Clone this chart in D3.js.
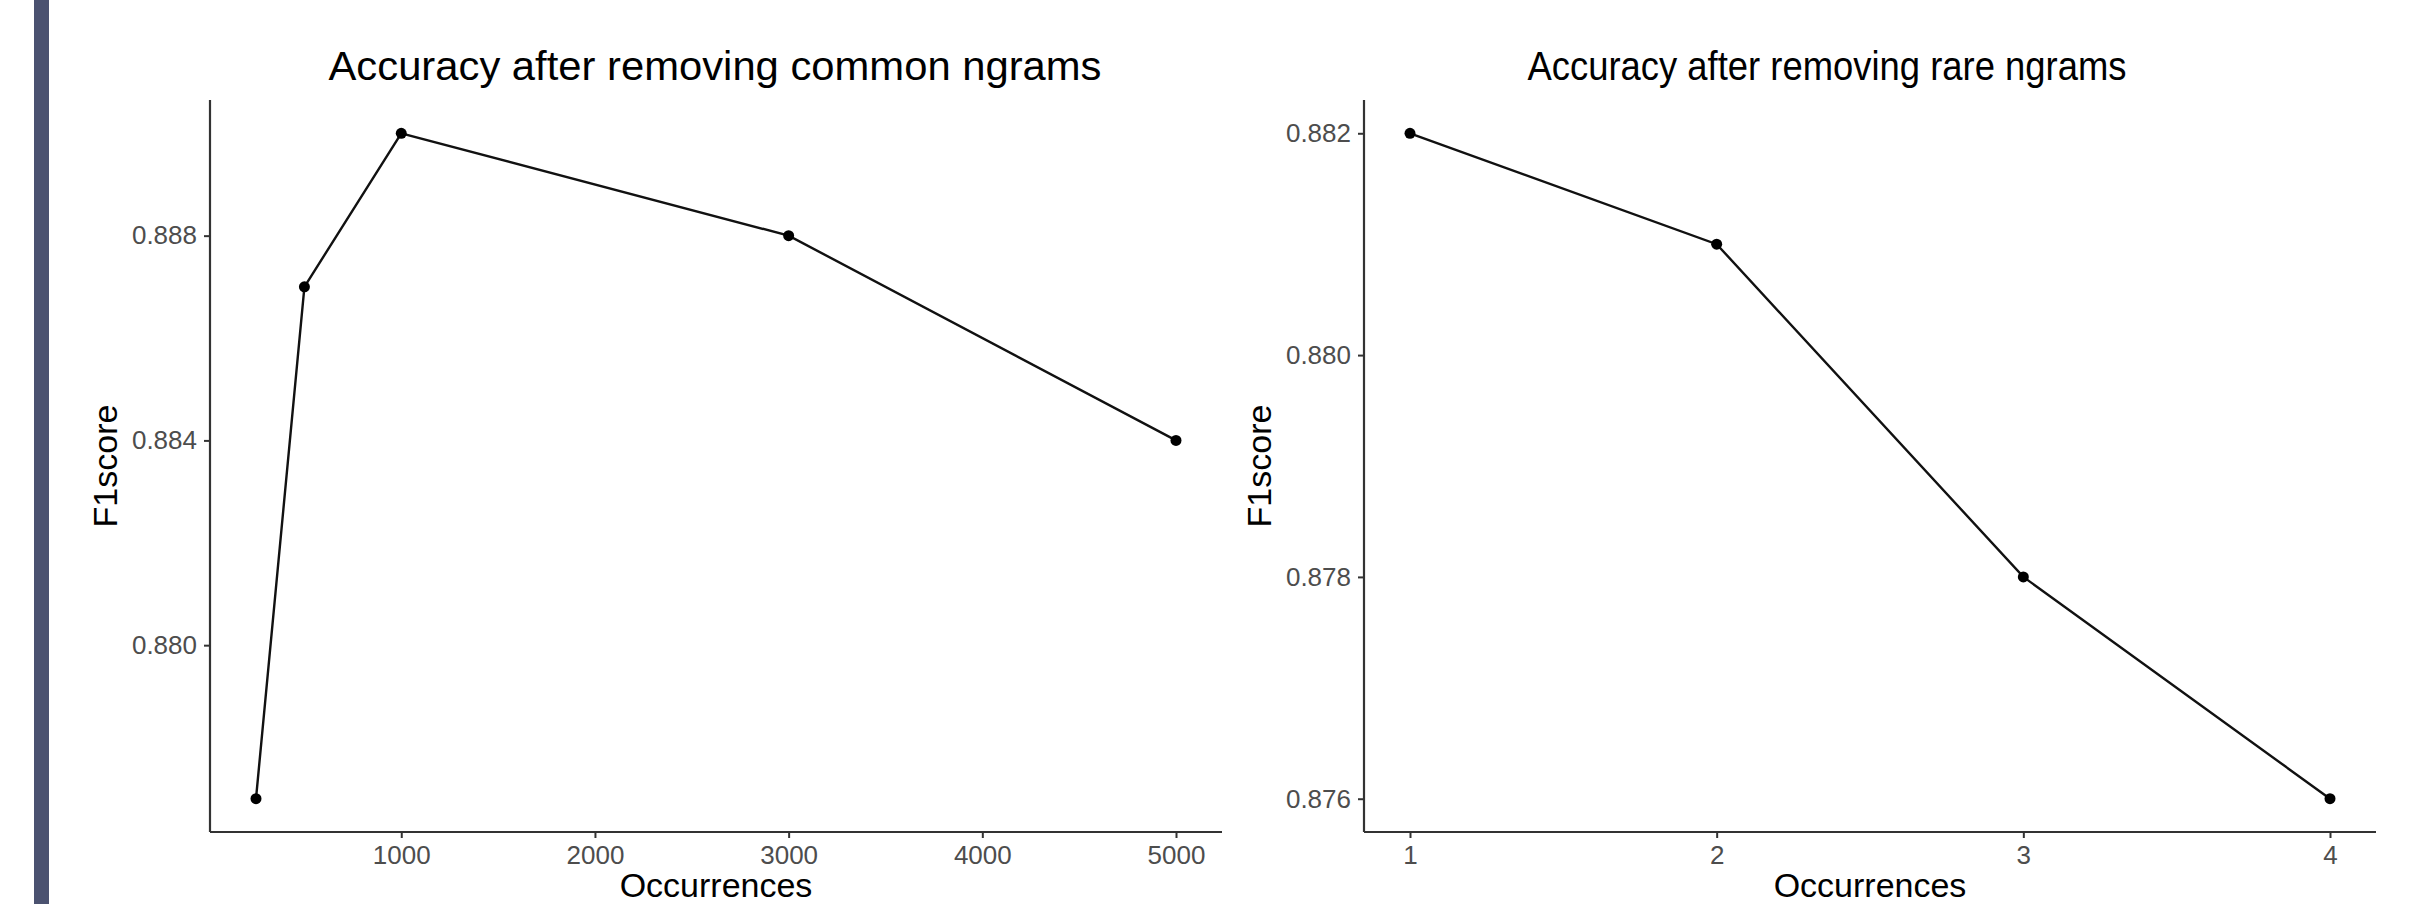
<!DOCTYPE html>
<html>
<head>
<meta charset="utf-8">
<script src="https://cdn.jsdelivr.net/npm/d3@7"></script>
<style>
  body { margin: 0; background: #fff; }
  svg text { font-family: "Liberation Sans", Arial, sans-serif; }
</style>
</head>
<body>
<div id="main"></div>
<script>
// Data
let commonOccurrences = [250, 500, 1000, 3000, 5000];
let commonF1 = [0.877, 0.887, 0.890, 0.888, 0.884];
let commonXTicks = [1000, 2000, 3000, 4000, 5000];
let commonYTicks = [0.880, 0.884, 0.888];

let rareOccurrences = [1, 2, 3, 4];
let rareF1 = [0.882, 0.881, 0.878, 0.876];
let rareXTicks = [1, 2, 3, 4];
let rareYTicks = [0.876, 0.878, 0.880, 0.882];

let width = 2419, height = 904;

let svg = d3.select("#main")
    .append("svg")
    .attr("width", width)
    .attr("height", height);

// dark strip at the left edge
svg.append("rect")
    .attr("x", 34)
    .attr("y", 0)
    .attr("width", 15)
    .attr("height", height)
    .attr("fill", "#4b5270");

// ggplot style 5% expansion of the data range
function expand(values) {
    let lo = d3.min(values), hi = d3.max(values);
    let pad = (hi - lo) * 0.05;
    return [lo - pad, hi + pad];
}

function drawPanel(opts) {
    let xScale = d3.scaleLinear().domain(expand(opts.x)).range([opts.left, opts.right]);
    let yScale = d3.scaleLinear().domain(expand(opts.y)).range([opts.bottom, opts.top]);
    let g = svg.append("g");

    // axes
    let xAxis = g.append("g")
        .attr("transform", "translate(0," + opts.bottom + ")")
        .call(d3.axisBottom(xScale).tickValues(opts.xTicks).tickSize(6).tickPadding(8)
            .tickFormat(d3.format("d")));
    let yAxis = g.append("g")
        .attr("transform", "translate(" + opts.left + ",0)")
        .call(d3.axisLeft(yScale).tickValues(opts.yTicks).tickSize(6).tickPadding(7)
            .tickFormat(d3.format(".3f")));

    [xAxis, yAxis].forEach(function(a) {
        a.select(".domain")
            .attr("stroke", "#333")
            .attr("stroke-width", 2.2);
        a.selectAll(".tick line")
            .attr("stroke", "#333")
            .attr("stroke-width", 2);
        a.selectAll(".tick text")
            .attr("fill", "#4d4d4d")
            .style("font-size", "26px");
    });
    // d3 draws the domain with outer ticks; strip them to plain lines
    xAxis.select(".domain").attr("d", "M" + opts.left + ",0H" + opts.right);
    yAxis.select(".domain").attr("d", "M0," + opts.top + "V" + opts.bottom);

    // line + points
    let points = opts.x.map(function(v, i) { return {x: v, y: opts.y[i]}; });
    let line = d3.line()
        .x(function(d) { return xScale(d.x); })
        .y(function(d) { return yScale(d.y); });
    g.append("path")
        .datum(points)
        .attr("d", line)
        .attr("fill", "none")
        .attr("stroke", "#111")
        .attr("stroke-width", 2.4);
    g.selectAll(".pt")
        .data(points)
        .enter().append("circle")
        .attr("class", "pt")
        .attr("cx", function(d) { return xScale(d.x); })
        .attr("cy", function(d) { return yScale(d.y); })
        .attr("r", 5.5)
        .attr("fill", "#000");

    // titles
    g.append("text")
        .attr("x", opts.titleX)
        .attr("y", 80)
        .attr("text-anchor", "middle")
        .attr("textLength", opts.titleWidth)
        .attr("lengthAdjust", "spacingAndGlyphs")
        .style("font-size", "41px")
        .attr("fill", "#000")
        .text(opts.title);
    g.append("text")
        .attr("x", (opts.left + opts.right) / 2)
        .attr("y", 897)
        .attr("text-anchor", "middle")
        .style("font-size", "34px")
        .attr("fill", "#000")
        .text("Occurrences");
    g.append("text")
        .attr("transform", "translate(" + (opts.left - 93) + "," + ((opts.top + opts.bottom) / 2) + ") rotate(-90)")
        .attr("text-anchor", "middle")
        .style("font-size", "34px")
        .attr("fill", "#000")
        .text("F1score");
}

drawPanel({
    x: commonOccurrences, y: commonF1,
    xTicks: commonXTicks, yTicks: commonYTicks,
    left: 210, right: 1222, top: 100, bottom: 832,
    title: "Accuracy after removing common ngrams", titleX: 715, titleWidth: 773
});

drawPanel({
    x: rareOccurrences, y: rareF1,
    xTicks: rareXTicks, yTicks: rareYTicks,
    left: 1364, right: 2376, top: 100, bottom: 832,
    title: "Accuracy after removing rare ngrams", titleX: 1827, titleWidth: 599
});
</script>
</body>
</html>
